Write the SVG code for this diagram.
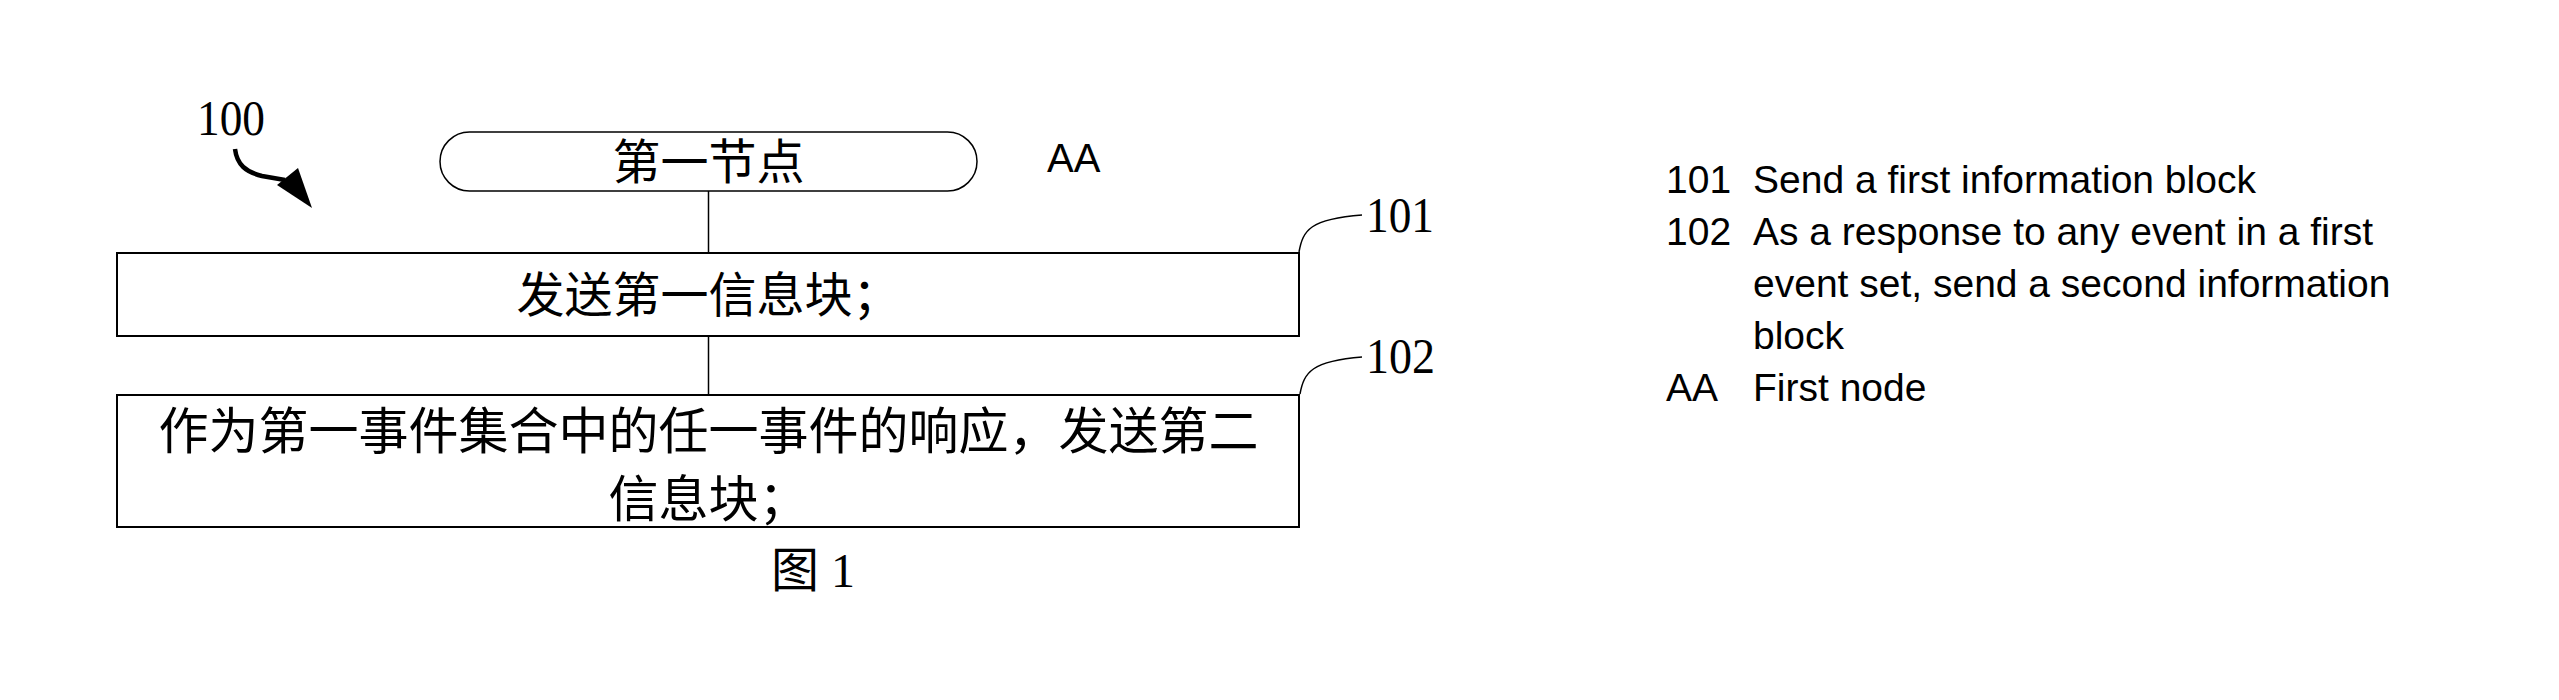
<svg xmlns="http://www.w3.org/2000/svg" width="2559" height="700" viewBox="0 0 2559 700">
<style>
.box{fill:none;stroke:#000;stroke-width:2}
.conn{fill:none;stroke:#000;stroke-width:1.5}
.cjk{font-family:"Liberation Serif","Noto Sans CJK SC",serif;fill:#000}
.ref{font-family:"Liberation Serif",serif;font-size:50px;fill:#000}
.leg{font-family:"Liberation Sans",Arial,sans-serif;font-size:39px;fill:#000}
</style>
<rect width="2559" height="700" fill="#fff"/>
<g id="label100">
<text class="ref" x="197" y="135" textLength="68" lengthAdjust="spacingAndGlyphs">100</text>
<path d="M235,149 C237,165 246,172 262,176 L285,180" fill="none" stroke="#000" stroke-width="4.5"/>
<polygon points="312,208 277,185 298,168" fill="#000"/>
</g>
<g id="node-AA">
<rect class="box" x="440" y="132" width="537" height="59" rx="29.5" ry="29.5" style="stroke-width:1.5"/>
<text class="cjk" x="708.5" y="179" font-size="48" text-anchor="middle">第一节点</text>
</g>
<g id="node-101">
<rect class="box" x="117" y="253" width="1182" height="83"/>
<text class="cjk" x="708.5" y="312" font-size="48" text-anchor="middle">发送第一信息块；</text>
</g>
<g id="node-102">
<rect class="box" x="117" y="395" width="1182" height="132"/>
<text class="cjk" x="708.5" y="449" font-size="50" text-anchor="middle">作为第一事件集合中的任一事件的响应，发送第二</text>
<text class="cjk" x="708.5" y="517" font-size="50" text-anchor="middle">信息块；</text>
</g>
<g id="connectors">
<line class="conn" x1="708.5" y1="191" x2="708.5" y2="253"/>
<line class="conn" x1="708.5" y1="336" x2="708.5" y2="395"/>
<path class="conn" d="M1299,252 C1303,230 1310,219 1362,215"/>
<path class="conn" d="M1300,394 C1304,372 1312,361 1362,357"/>
</g>
<g id="labels">
<text x="1047" y="172" font-family="Liberation Sans,Arial,sans-serif" font-size="40">AA</text>
<text class="ref" x="1366" y="232" textLength="68" lengthAdjust="spacingAndGlyphs">101</text>
<text class="ref" x="1366" y="373" textLength="69" lengthAdjust="spacingAndGlyphs">102</text>
<text class="cjk" x="771" y="587" font-size="48">图 1</text>
</g>
<g id="legend">
<text class="leg" x="1666" y="193">101</text>
<text class="leg" x="1753" y="193">Send a first information block</text>
<text class="leg" x="1666" y="245">102</text>
<text class="leg" x="1753" y="245">As a response to any event in a first</text>
<text class="leg" x="1753" y="297">event set, send a second information</text>
<text class="leg" x="1753" y="349">block</text>
<text class="leg" x="1666" y="401">AA</text>
<text class="leg" x="1753" y="401">First node</text>
</g>
</svg>
